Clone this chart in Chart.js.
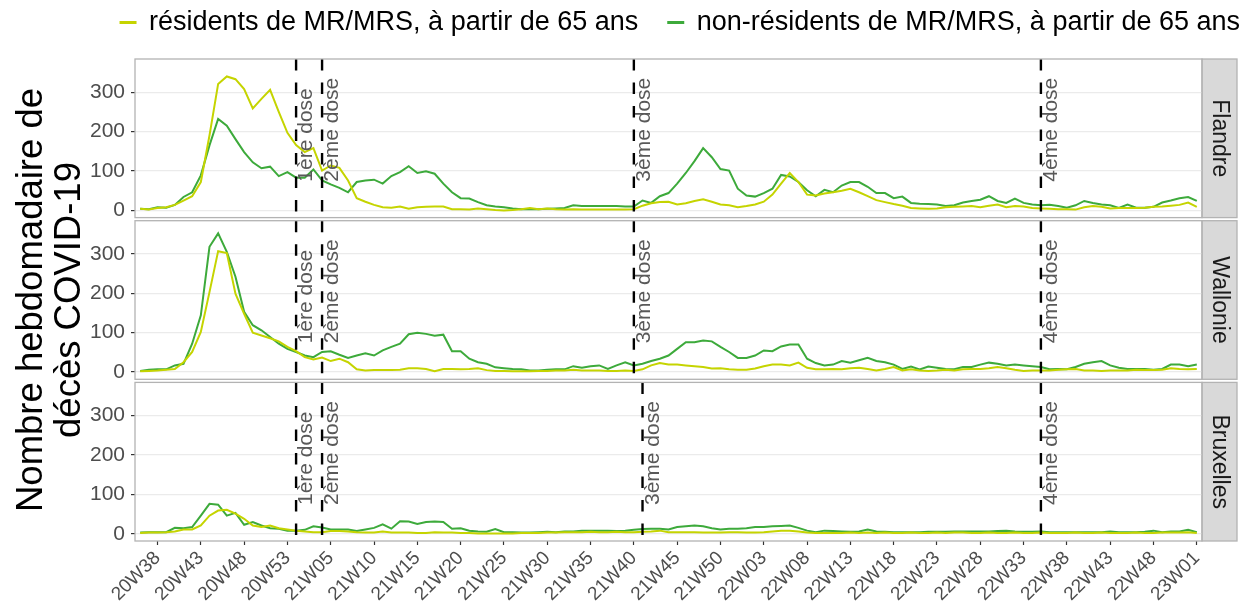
<!DOCTYPE html>
<html>
<head>
<meta charset="utf-8">
<script src="https://cdn.jsdelivr.net/npm/chart.js@4.4.1/dist/chart.umd.min.js"></script>
<style>
  html, body { margin: 0; padding: 0; background: #fff; }
  #deaths { display: block; }
</style>
</head>
<body>
<canvas id="deaths" width="1245" height="601"></canvas>
<script>
// weeks on the x axis (index = position on the linear scale)
const weeks = [
  '20W36','20W37','20W38','20W39','20W40','20W41','20W42','20W43','20W44','20W45','20W46','20W47','20W48','20W49','20W50','20W51','20W52','20W53',
  '21W01','21W02','21W03','21W04','21W05','21W06','21W07','21W08','21W09','21W10','21W11','21W12','21W13','21W14','21W15','21W16','21W17','21W18',
  '21W19','21W20','21W21','21W22','21W23','21W24','21W25','21W26','21W27','21W28','21W29','21W30','21W31','21W32','21W33','21W34','21W35','21W36',
  '21W37','21W38','21W39','21W40','21W41','21W42','21W43','21W44','21W45','21W46','21W47','21W48','21W49','21W50','21W51','21W52',
  '22W01','22W02','22W03','22W04','22W05','22W06','22W07','22W08','22W09','22W10','22W11','22W12','22W13','22W14','22W15','22W16','22W17','22W18',
  '22W19','22W20','22W21','22W22','22W23','22W24','22W25','22W26','22W27','22W28','22W29','22W30','22W31','22W32','22W33','22W34','22W35','22W36',
  '22W37','22W38','22W39','22W40','22W41','22W42','22W43','22W44','22W45','22W46','22W47','22W48','22W49','22W50','22W51','22W52',
  '23W01'
];
const tickWeeks = ['20W38','20W43','20W48','20W53','21W05','21W10','21W15','21W20','21W25','21W30','21W35','21W40','21W45',
  '21W50','22W03','22W08','22W13','22W18','22W23','22W28','22W33','22W38','22W43','22W48','23W01'];
const yTicks = [0, 100, 200, 300];

const seriesNames = ['résidents de MR/MRS, à partir de 65 ans', 'non-résidents de MR/MRS, à partir de 65 ans'];
const regions = ['Flandre', 'Wallonie', 'Bruxelles'];

// weekly deaths, Flanders
const flandreMRS = [
  4, 2, 6, 8, 14, 25, 36, 72, 190, 321,
  340, 333, 308, 259, 283, 306, 250, 197, 166, 148,
  158, 101, 114, 108, 76, 31, 22, 14, 8, 7,
  10, 4, 8, 9, 10, 10, 3, 3, 2, 5,
  3, 1, 0, 1, 3, 6, 3, 5, 3, 2,
  3, 2, 2, 2, 2, 2, 2, 3, 12, 18,
  21, 22, 15, 18, 24, 28, 22, 15, 13, 8,
  11, 15, 22, 40, 68, 95, 72, 40, 38, 43,
  46, 50, 55, 46, 36, 26, 21, 16, 12, 6,
  5, 4, 5, 8, 9, 10, 11, 8, 12, 15,
  8, 11, 10, 6, 5, 4, 3, 3, 2, 8,
  11, 9, 5, 6, 6, 6, 7, 9, 10, 12,
  14, 20, 9
];
const flandreNonMRS = [
  4, 3, 8, 7, 14, 34, 46, 89, 165, 232,
  215, 181, 148, 122, 107, 111, 87, 97, 83, 83,
  104, 76, 66, 57, 46, 72, 76, 78, 68, 87,
  97, 112, 95, 99, 93, 68, 46, 31, 30, 21,
  13, 10, 8, 5, 3, 3, 3, 4, 5, 6,
  13, 11, 11, 11, 11, 11, 10, 10, 25, 19,
  36, 44, 68, 95, 125, 158, 135, 105, 101, 55,
  38, 35, 44, 55, 90, 86, 72, 51, 36, 52,
  46, 63, 72, 72, 60, 44, 44, 31, 35, 19,
  17, 16, 15, 11, 13, 20, 24, 27, 36, 24,
  19, 30, 19, 15, 13, 14, 11, 7, 13, 24,
  19, 15, 13, 6, 15, 7, 7, 9, 20, 25,
  31, 34, 24
];

// weekly deaths, Wallonia
const wallonieMRS = [
  2, 3, 4, 6, 8, 25, 51, 102, 203, 307,
  302, 199, 148, 100, 93, 86, 78, 64, 53, 38,
  32, 37, 28, 34, 25, 7, 4, 5, 5, 5,
  6, 10, 10, 8, 2, 8, 8, 7, 8, 10,
  5, 3, 3, 2, 2, 2, 3, 3, 4, 4,
  6, 4, 4, 4, 3, 3, 4, 3, 7, 17,
  23, 19, 19, 17, 15, 13, 9, 10, 7, 6,
  6, 9, 15, 19, 19, 17, 24, 11, 7, 7,
  8, 7, 10, 11, 8, 4, 8, 13, 4, 7,
  4, 3, 4, 6, 4, 7, 8, 8, 10, 13,
  10, 6, 3, 4, 4, 4, 6, 7, 8, 4,
  4, 3, 4, 4, 4, 6, 5, 5, 6, 10,
  8, 7, 8
];
const wallonieNonMRS = [
  3, 6, 7, 7, 17, 21, 72, 144, 318, 352,
  305, 242, 153, 119, 106, 89, 72, 59, 51, 42,
  38, 51, 53, 44, 36, 42, 48, 42, 55, 64,
  72, 96, 100, 97, 92, 95, 53, 53, 34, 25,
  21, 12, 10, 8, 7, 4, 4, 6, 7, 7,
  15, 11, 15, 17, 8, 17, 25, 17, 21, 28,
  34, 42, 59, 76, 76, 80, 78, 64, 51, 36,
  36, 42, 55, 53, 65, 70, 70, 34, 23, 17,
  19, 28, 24, 30, 36, 28, 25, 19, 8, 14,
  7, 14, 11, 8, 7, 13, 13, 19, 24, 21,
  17, 19, 17, 15, 13, 7, 8, 7, 13, 21,
  25, 28, 17, 11, 8, 8, 8, 6, 8, 19,
  19, 15, 19
];

// weekly deaths, Brussels
const bruxellesMRS = [
  2, 3, 3, 4, 6, 11, 11, 21, 46, 59,
  61, 51, 38, 21, 17, 21, 14, 11, 8, 6,
  4, 4, 7, 7, 6, 4, 3, 3, 6, 3,
  3, 3, 2, 2, 4, 3, 3, 2, 2, 1,
  1, 1, 1, 1, 2, 2, 2, 3, 3, 4,
  4, 4, 5, 4, 4, 5, 4, 4, 5, 6,
  8, 4, 4, 4, 4, 3, 3, 3, 4, 4,
  3, 3, 4, 6, 8, 8, 6, 3, 2, 2,
  2, 2, 3, 2, 3, 2, 3, 2, 2, 3,
  2, 2, 3, 2, 3, 3, 2, 2, 3, 2,
  2, 3, 2, 2, 3, 2, 2, 2, 3, 2,
  2, 3, 2, 2, 2, 3, 2, 2, 3, 3,
  3, 4, 2
];
const bruxellesNonMRS = [
  3, 4, 4, 4, 15, 14, 17, 46, 76, 74,
  46, 53, 23, 30, 21, 14, 13, 8, 8, 10,
  19, 16, 11, 11, 11, 7, 11, 15, 24, 13,
  32, 31, 25, 30, 31, 30, 13, 14, 8, 6,
  5, 12, 4, 4, 3, 3, 4, 5, 4, 6,
  6, 8, 8, 8, 8, 7, 8, 10, 12, 13,
  13, 11, 17, 19, 21, 19, 14, 11, 13, 13,
  14, 17, 17, 19, 20, 21, 15, 8, 4, 8,
  7, 6, 5, 6, 11, 6, 5, 4, 4, 4,
  4, 5, 5, 5, 6, 6, 6, 6, 6, 7,
  8, 6, 5, 5, 6, 4, 4, 4, 4, 4,
  4, 4, 6, 4, 4, 4, 5, 8, 4, 6,
  6, 10, 4
];

// vaccination campaigns, one week per dose and region
const doseLabels = ['1ère dose', '2ème dose', '3ème dose', '4ème dose'];
const doseWeeksFlandre = ['21W01', '21W04', '21W40', '22W35'];
const doseWeeksWallonie = ['21W01', '21W04', '21W40', '22W35'];
const doseWeeksBruxelles = ['21W01', '21W04', '21W41', '22W35'];
const doseLabelY = 73;

const RES_COLOR = '#c5d400';
const NONRES_COLOR = '#3daa3b';
const FONT = "'Liberation Sans', Arial, Helvetica, sans-serif";

Chart.defaults.font.family = FONT;

const panels = [
  {axis: 'yF', strip: 'sF', res: flandreMRS, nonres: flandreNonMRS, doses: doseWeeksFlandre},
  {axis: 'yW', strip: 'sW', res: wallonieMRS, nonres: wallonieNonMRS, doses: doseWeeksWallonie},
  {axis: 'yB', strip: 'sB', res: bruxellesMRS, nonres: bruxellesNonMRS, doses: doseWeeksBruxelles}
];

const PANEL_H = 158.6, GAP_H = 3.1, STRIP_W = 35;

function line(label, values, color, axis) {
  return {
    label: label,
    data: values.map((v, i) => ({x: i, y: v})),
    borderColor: color,
    backgroundColor: color,
    borderWidth: 2,
    pointRadius: 0,
    pointHoverRadius: 0,
    tension: 0,
    xAxisID: 'x',
    yAxisID: axis
  };
}

const datasets = [];
panels.forEach(p => {
  datasets.push(line(seriesNames[0], p.res, RES_COLOR, p.axis));
  datasets.push(line(seriesNames[1], p.nonres, NONRES_COLOR, p.axis));
});

function panelAxis(weight, title) {
  return {
    type: 'linear',
    position: 'left',
    stack: 'facets',
    stackWeight: PANEL_H,
    weight: weight,
    min: -18.3,
    max: 384.3,
    afterBuildTicks: s => { s.ticks = yTicks.map(v => ({value: v})); },
    afterFit: s => { s.width = 135; },
    ticks: {font: {size: 21}, color: '#4d4d4d', padding: 6},
    grid: {color: '#ebebeb', lineWidth: 1.2, tickLength: 4, tickColor: '#333333', tickWidth: 1.2},
    border: {display: false},
    title: title ? {
      display: true,
      text: title,
      color: '#000',
      font: {size: 36.5, lineHeight: 1.04},
      padding: {top: 13, bottom: 0}
    } : {display: false}
  };
}

function gapAxis(position, weight) {
  return {type: 'linear', position: position, stack: 'facets', stackWeight: GAP_H, weight: weight, display: false};
}

function stripAxis(text, weight) {
  return {
    type: 'linear',
    position: 'right',
    stack: 'facets',
    stackWeight: PANEL_H,
    weight: weight,
    afterFit: s => { s.width = 68; },
    ticks: {display: false},
    grid: {display: false},
    border: {display: false},
    title: {display: true, text: text, color: '#1a1a1a', font: {size: 23}, padding: {top: 36.7, bottom: 0}}
  };
}

// panel frames, strips and the vaccination markers
const facets = {
  id: 'facets',
  beforeDraw(chart) {
    const ctx = chart.ctx;
    ctx.save();
    panels.forEach(p => {
      const s = chart.scales[p.strip];
      ctx.fillStyle = '#d9d9d9';
      ctx.fillRect(s.left, s.top, STRIP_W, s.bottom - s.top);
      ctx.strokeStyle = '#b3b3b3';
      ctx.lineWidth = 1.3;
      ctx.strokeRect(s.left, s.top, STRIP_W, s.bottom - s.top);
    });
    ctx.restore();
  },
  afterDatasetsDraw(chart) {
    const ctx = chart.ctx;
    const area = chart.chartArea;
    const x = chart.scales.x;
    panels.forEach(p => {
      const y = chart.scales[p.axis];
      ctx.save();
      ctx.beginPath();
      ctx.rect(area.left, y.top, area.right - area.left, y.bottom - y.top);
      ctx.clip();
      ctx.strokeStyle = '#000';
      ctx.lineWidth = 2.4;
      ctx.setLineDash([11.5, 12]);
      p.doses.forEach(w => {
        const px = x.getPixelForValue(weeks.indexOf(w));
        ctx.beginPath();
        ctx.moveTo(px, y.top);
        ctx.lineTo(px, y.bottom);
        ctx.stroke();
      });
      ctx.restore();

      ctx.save();
      ctx.font = '21px ' + FONT;
      ctx.fillStyle = '#595959';
      ctx.textAlign = 'left';
      ctx.textBaseline = 'alphabetic';
      p.doses.forEach((w, k) => {
        const px = x.getPixelForValue(weeks.indexOf(w));
        ctx.save();
        ctx.translate(px + 16, y.getPixelForValue(doseLabelY));
        ctx.rotate(-Math.PI / 2);
        ctx.fillText(doseLabels[k], 0, 0);
        ctx.restore();
      });
      ctx.restore();

      ctx.save();
      ctx.strokeStyle = '#b3b3b3';
      ctx.lineWidth = 1.3;
      ctx.strokeRect(area.left, y.top, area.right - area.left, y.bottom - y.top);
      ctx.restore();
    });
  }
};

new Chart(document.getElementById('deaths'), {
  type: 'line',
  data: {datasets: datasets},
  plugins: [facets],
  options: {
    responsive: false,
    devicePixelRatio: 1,
    animation: false,
    events: [],
    layout: {padding: {top: -21, right: -25, bottom: 0, left: 0}},
    plugins: {
      tooltip: {enabled: false},
      legend: {
        position: 'top',
        align: 'end',
        labels: {
          font: {size: 27},
          color: '#000',
          boxWidth: 15,
          boxHeight: 1,
          padding: 30,
          filter: item => item.datasetIndex < 2
        }
      }
    },
    scales: {
      x: {
        type: 'linear',
        position: 'bottom',
        min: -0.6,
        max: 122.6,
        afterBuildTicks: s => { s.ticks = tickWeeks.map(w => ({value: weeks.indexOf(w)})); },
        afterFit: s => { s.height = 60; },
        ticks: {
          autoSkip: false,
          minRotation: 45,
          maxRotation: 45,
          padding: 2,
          font: {size: 19},
          color: '#4d4d4d',
          callback: v => weeks[v]
        },
        grid: {drawOnChartArea: false, drawTicks: true, tickLength: 4, tickColor: '#333333', tickWidth: 1.2},
        border: {display: false}
      },
      xTop: {type: 'linear', position: 'top', display: false, afterFit: s => { s.height = 13; }},
      yF: panelAxis(5),
      gapL1: gapAxis('left', 4),
      yW: panelAxis(3, ['Nombre hebdomadaire de', 'décès COVID-19']),
      gapL2: gapAxis('left', 2),
      yB: panelAxis(1),
      sF: stripAxis(regions[0], 1),
      gapR1: gapAxis('right', 2),
      sW: stripAxis(regions[1], 3),
      gapR2: gapAxis('right', 4),
      sB: stripAxis(regions[2], 5)
    }
  }
});
</script>
</body>
</html>
